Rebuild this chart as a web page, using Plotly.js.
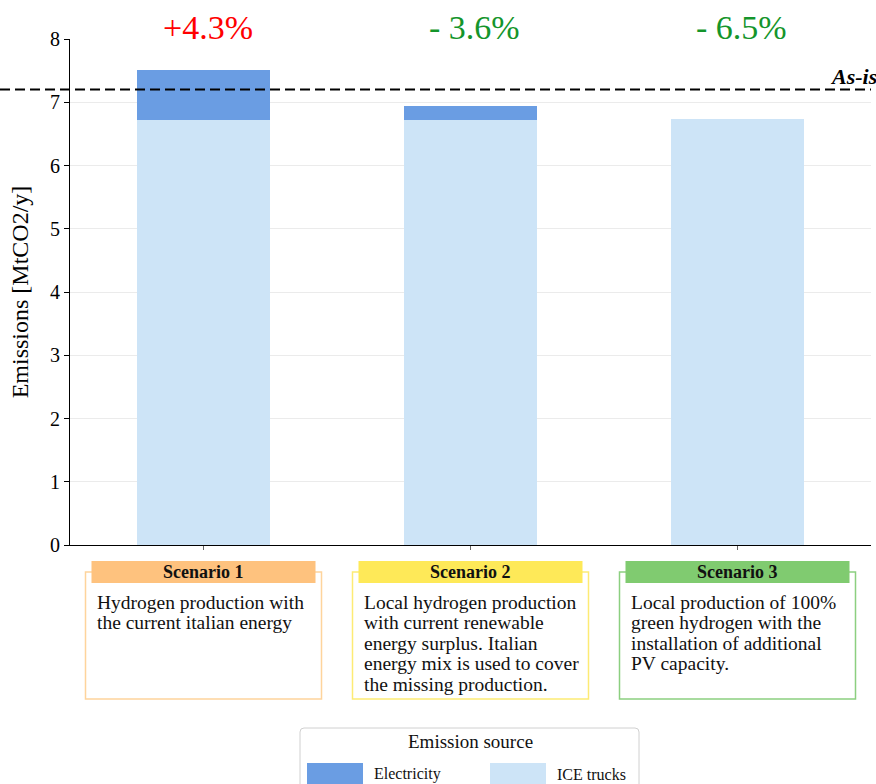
<!DOCTYPE html>
<html>
<head>
<meta charset="utf-8">
<script src="https://cdn.plot.ly/plotly-3.0.1.min.js"></script>
<style>
  html, body { margin: 0; padding: 0; background: #fff; }
  #chart { width: 876px; height: 784px; }
</style>
</head>
<body>
<div id="chart"></div>
<script>
// Emissions per scenario, split by source [MtCO2/y]
const categories = ["Scenario 1", "Scenario 2", "Scenario 3"];
const iceTrucks = [6.72, 6.72, 6.73];
const electricity = [0.79, 0.22, 0.0];
const asIsLevel = 7.2;
const asIsLabel = "As-is";

const descriptions = [
  ["Hydrogen production with", "the current italian energy"],
  ["Local hydrogen production", "with current renewable", "energy surplus. Italian",
   "energy mix is used to cover", "the missing production."],
  ["Local production of 100%", "green hydrogen with the", "installation of additional",
   "PV capacity."]
];

const legendTitle = "Emission source";
const seriesNames = ["Electricity", "ICE trucks"];

const colElec = "#6a9de3";
const colIce = "#cde4f7";
const headerFill = ["#fec27e", "#fee958", "#80cb70"];
const boxLine = ["#fed49c", "#fdeb74", "#8ccf80"];
const deltaColor = (d) => (d > 0 ? "#ff0000" : "#14952b");

// plot-area geometry in pixels, used to place the panels under the axis
const L = 70, T = 39, W = 801, H = 506;
const px = (x) => (x - L) / W;
const py = (y) => (T + H - y) / H;
const catCenter = (i) => L + W * (i + 0.5) / categories.length;

const totals = iceTrucks.map((v, i) => v + electricity[i]);
const deltas = totals.map((t) => (t / asIsLevel - 1) * 100);
const deltaText = deltas.map((d) => (d > 0 ? "+" : "- ") + Math.abs(d).toFixed(1) + "%");

const font = "Liberation Serif, Times New Roman, serif";

const traces = [
  { type: "bar", name: seriesNames[1], x: categories, y: iceTrucks,
    marker: { color: colIce }, hoverinfo: "y+name" },
  { type: "bar", name: seriesNames[0], x: categories, y: electricity,
    marker: { color: colElec }, hoverinfo: "y+name" }
];

const shapes = [];
const annotations = [];

// as-is reference line
shapes.push({ type: "line", xref: "paper", yref: "y", x0: px(0), x1: 1,
  y0: asIsLevel, y1: asIsLevel, line: { color: "#000", width: 2, dash: "10px,5px" } });
annotations.push({ xref: "paper", yref: "paper", x: px(879), y: py(76),
  xanchor: "right", yanchor: "middle", text: "<b><i>" + asIsLabel + "</i></b>",
  showarrow: false, font: { family: font, size: 22, color: "#000" } });

// change vs as-is above each bar
categories.forEach((c, i) => {
  annotations.push({ xref: "x", yref: "paper", x: c, y: py(28), yanchor: "middle",
    xshift: 4, text: deltaText[i], showarrow: false,
    font: { family: font, size: 34, color: deltaColor(deltas[i]) } });
});

// scenario panels
categories.forEach((c, i) => {
  const cx = catCenter(i);
  shapes.push({ type: "rect", xref: "paper", yref: "paper",
    x0: px(cx - 118), x1: px(cx + 118), y0: py(572), y1: py(699),
    line: { color: boxLine[i], width: 1.5 }, fillcolor: "rgba(0,0,0,0)" });
  shapes.push({ type: "rect", xref: "paper", yref: "paper",
    x0: px(cx - 112), x1: px(cx + 112), y0: py(561), y1: py(583),
    line: { width: 0 }, fillcolor: headerFill[i] });
  annotations.push({ xref: "paper", yref: "paper", x: px(cx), y: py(572),
    xanchor: "center", yanchor: "middle", text: "<b>" + c + "</b>", showarrow: false,
    font: { family: font, size: 18, color: "#111" } });
  descriptions[i].forEach((line, k) => {
    annotations.push({ xref: "paper", yref: "paper", x: px(cx - 109), y: py(602 + 20.5 * k),
      xanchor: "left", yanchor: "middle", text: line, showarrow: false,
      font: { family: font, size: 19.5, color: "#111" } });
  });
});

// legend panel
shapes.push({ type: "path", xref: "paper", yref: "paper",
  path: `M ${px(304)},${py(728)} L ${px(635)},${py(728)} Q ${px(639)},${py(728)} ${px(639)},${py(732)}
         L ${px(639)},${py(800)} L ${px(300)},${py(800)} L ${px(300)},${py(732)}
         Q ${px(300)},${py(728)} ${px(304)},${py(728)} Z`,
  line: { color: "#d0d0d0", width: 1 }, fillcolor: "#fff" });
annotations.push({ xref: "paper", yref: "paper", x: px(470), y: py(741),
  xanchor: "center", yanchor: "middle", text: legendTitle, showarrow: false,
  font: { family: font, size: 19, color: "#111" } });
[[307, colElec, seriesNames[0]], [490, colIce, seriesNames[1]]].forEach(([x, col, name]) => {
  shapes.push({ type: "rect", xref: "paper", yref: "paper",
    x0: px(x), x1: px(x + 56), y0: py(763), y1: py(786),
    line: { width: 0 }, fillcolor: col });
  annotations.push({ xref: "paper", yref: "paper", x: px(x + 65), y: py(774),
    xanchor: "left", yanchor: "middle", text: name, showarrow: false,
    font: { family: font, size: 16, color: "#111" } });
});

const layout = {
  width: 876, height: 784,
  margin: { l: L, r: 876 - L - W, t: T, b: 784 - T - H },
  paper_bgcolor: "#fff", plot_bgcolor: "#fff",
  font: { family: font, color: "#000" },
  barmode: "stack", bargap: 0.5, showlegend: false,
  xaxis: { type: "category", range: [-0.5, 2.5], showticklabels: false,
    showline: true, linecolor: "#000", linewidth: 1,
    ticks: "outside", ticklen: 4, tickcolor: "#666", showgrid: false, fixedrange: true },
  yaxis: { range: [0, 8], dtick: 1, showline: true, linecolor: "#000", linewidth: 1,
    ticks: "outside", ticklen: 5, tickcolor: "#000", gridcolor: "#ebebeb",
    zeroline: false, tickfont: { size: 20, color: "#000" },
    title: { text: "Emissions [MtCO2/y]", font: { size: 24, color: "#000" }, standoff: 14 },
    fixedrange: true },
  shapes: shapes,
  annotations: annotations
};

Plotly.newPlot("chart", traces, layout, { displayModeBar: false, staticPlot: true });
</script>
</body>
</html>
